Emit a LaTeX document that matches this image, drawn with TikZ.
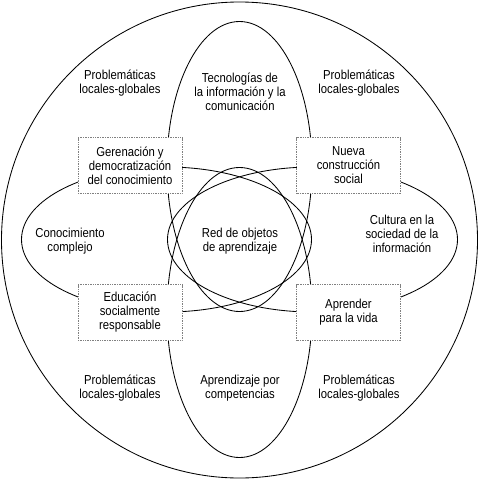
\documentclass[tikz,border=0pt]{standalone}
\usepackage{fontspec}
\setmainfont{Liberation Sans}[FakeStretch=0.87]
\begin{document}
\begin{tikzpicture}[x=1pt,y=-1pt,
  lbl/.style={align=center, font=\fontsize{13}{14}\selectfont, inner sep=0pt, text=black},
  boxnode/.style={lbl, draw=gray, densely dotted, line width=0.7pt, fill=white,
    minimum width=104pt, minimum height=56pt},
  ring/.style={draw=black, line width=0.85pt}]
\useasboundingbox (0,0) rectangle (480,480);
% outer circle
\draw[ring] (239.5,240) circle[radius=238];
% four offset ellipses
\draw[ring] (239.5,166.5) ellipse[x radius=72.5, y radius=145];
\draw[ring] (239.5,312.5) ellipse[x radius=72.5, y radius=145];
\draw[ring] (166.5,239.5) ellipse[x radius=145, y radius=72.5];
\draw[ring] (312.5,239.5) ellipse[x radius=145, y radius=72.5];
% free labels
\node[lbl] (p1) at (120,83) {Problemáticas\\locales-globales};
\node[lbl] (p2) at (359,83) {Problemáticas\\locales-globales};
\node[lbl] (p3) at (120,388) {Problemáticas\\locales-globales};
\node[lbl] (p4) at (359,388) {Problemáticas\\locales-globales};
\node[lbl] (tic) at (240,92) {Tecnologías de\\la información y la\\comunicación};
\node[lbl] (comp) at (240,388) {Aprendizaje por\\competencias};
\node[lbl] (conoc) at (70,241) {Conocimiento\\complejo};
\node[lbl] (cult) at (402,234) {Cultura en la\\sociedad de la\\información};
\node[lbl] (red) at (240,241) {Red de objetos\\de aprendizaje};
% boxes
\node[boxnode] (gen) at (130,165.5) {Gerenación y\\democratización\\del conocimiento};
\node[boxnode] (nueva) at (348.5,165.5) {Nueva\\construcción\\social};
\node[boxnode] (edu) at (130,312.5) {Educación\\socialmente\\responsable};
\node[boxnode] (apr) at (348.5,312.5) {Aprender\\para la vida};
\end{tikzpicture}
\end{document}
